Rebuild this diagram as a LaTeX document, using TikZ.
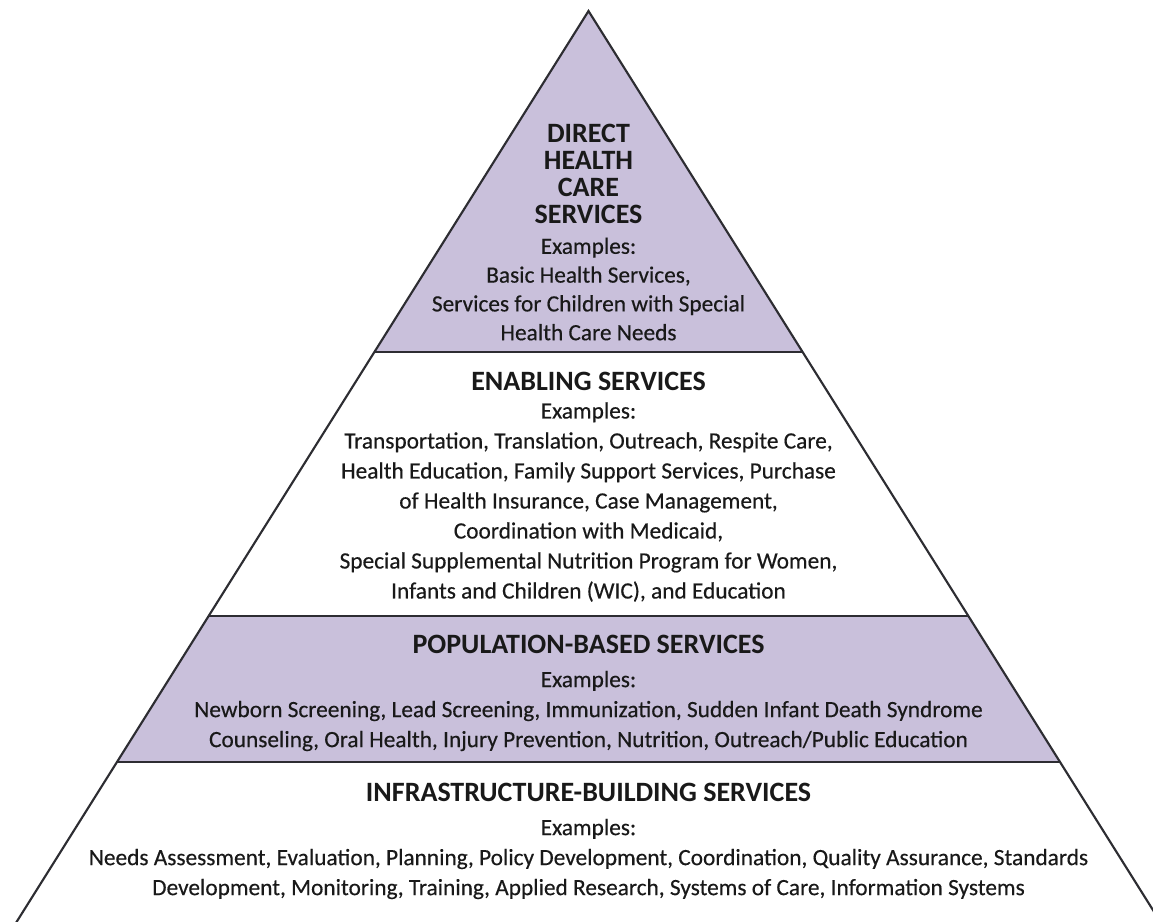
\documentclass[tikz,border=0pt]{standalone}
\usepackage{fontspec}
\setmainfont{Carlito}
\newfontface\bodyface{Carlito}[FakeBold=0.4]
\newfontface\headface{Carlito Bold}
\definecolor{tierfill}{RGB}{201,192,219}
\definecolor{edgeline}{RGB}{45,45,50}
\definecolor{inktext}{RGB}{25,25,25}
\begin{document}
\begin{tikzpicture}[x=0.75pt,y=-0.75pt,
  heading/.style={font=\headface\fontsize{21}{20.25}\selectfont, align=center, inner sep=0pt, text=inktext},
  body/.style={font=\bodyface\fontsize{17.5}{22.5}\selectfont, align=center, inner sep=0pt, text=inktext},
  topbody/.style={font=\bodyface\fontsize{17.5}{21.6}\selectfont, align=center, inner sep=0pt, text=inktext},
  outline/.style={draw=edgeline, line width=1.6pt, line join=miter, line cap=butt}]
\useasboundingbox (0,0) rectangle (1153,921);

% pyramid corners and tier boundaries
\coordinate (apex) at (588.5,11);
\coordinate (bl) at (11.5,930);
\coordinate (br) at (1165.5,930);
\coordinate (t1l) at (374.4,352);
\coordinate (t1r) at (802.6,352);
\coordinate (t2l) at (208.5,616);
\coordinate (t2r) at (968.5,616);
\coordinate (t3l) at (116.9,762);
\coordinate (t3r) at (1060.1,762);

\begin{scope}
\clip (0,0) rectangle (1153,921);
% shaded tiers
\fill[tierfill] (apex) -- (t1r) -- (t1l) -- cycle;
\fill[tierfill] (t2l) -- (t2r) -- (t3r) -- (t3l) -- cycle;
% tier dividers
\draw[outline] (t1l) -- (t1r);
\draw[outline] (t2l) -- (t2r);
\draw[outline] (t3l) -- (t3r);
% pyramid sides
\draw[outline] (bl) -- (apex) -- (br);
\end{scope}

% top tier
\node[heading] (dhead) at (588.5,174) {DIRECT\\HEALTH\\CARE\\SERVICES};
\node[topbody] (dbody) at (588.5,289) {Examples:\\Basic Health Services,\\Services for Children with Special\\Health Care Needs};

% second tier
\node[heading] (ehead) at (588.5,381) {ENABLING SERVICES};
\node[body] (ebody) at (588.5,502) {Examples:\\Transportation, Translation, Outreach, Respite Care,\\Health Education, Family Support Services, Purchase\\of Health Insurance, Case Management,\\Coordination with Medicaid,\\Special Supplemental Nutrition Program for Women,\\Infants and Children (WIC), and Education};

% third tier
\node[heading] (phead) at (588.5,644) {POPULATION-BASED SERVICES};
\node[body] (pbody) at (588.5,711) {Examples:\\Newborn Screening, Lead Screening, Immunization, Sudden Infant Death Syndrome\\Counseling, Oral Health, Injury Prevention, Nutrition, Outreach/Public Education};

% base tier
\node[heading] (ihead) at (588.5,792) {INFRASTRUCTURE-BUILDING SERVICES};
\node[body] (ibody) at (588.5,859) {Examples:\\Needs Assessment, Evaluation, Planning, Policy Development, Coordination, Quality Assurance, Standards\\Development, Monitoring, Training, Applied Research, Systems of Care, Information Systems};
\end{tikzpicture}
\end{document}
